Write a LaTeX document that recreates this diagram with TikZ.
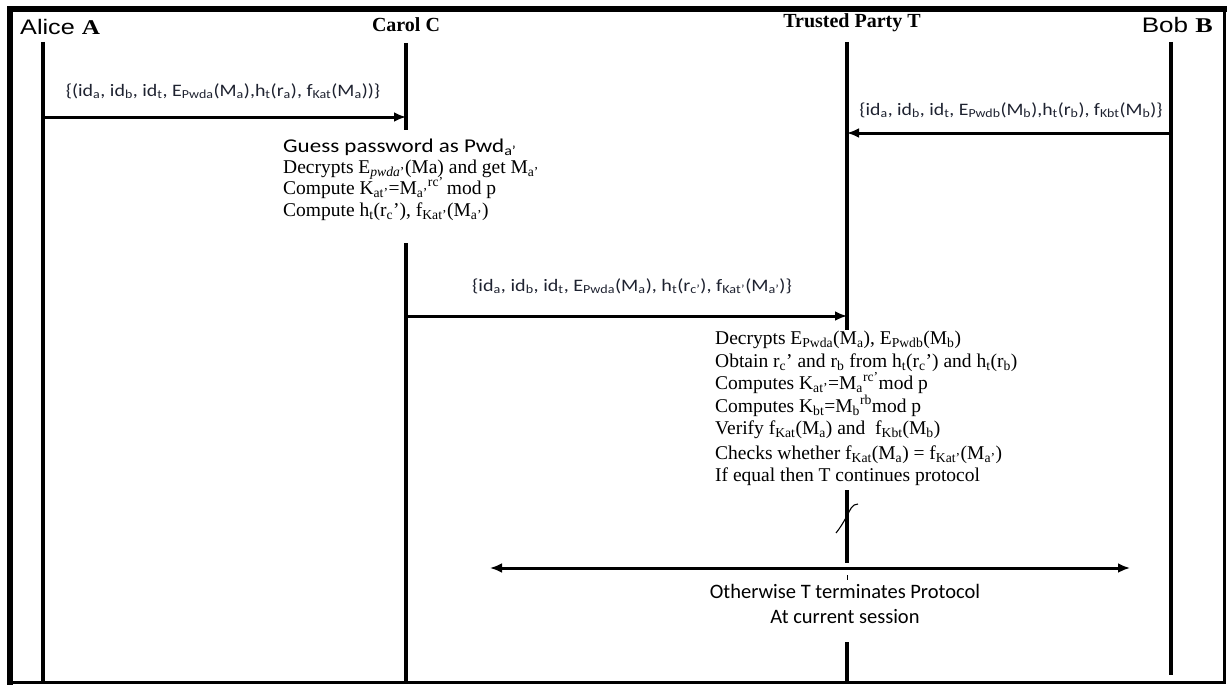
\documentclass[tikz,border=0pt]{standalone}
\usepackage{fontspec}
\setmainfont{Liberation Serif}
\newfontfamily\calfont{Carlito}
\newfontfamily\arialfont{Liberation Sans}
\usetikzlibrary{arrows.meta}
\definecolor{ink}{HTML}{1E2230}

\tikzset{
  lifeline/.style={line width=3.6pt},
  msg/.style={line width=3pt,-{Latex[length=12pt,width=10pt]}},
  twoway/.style={line width=3pt,{Latex[length=12pt,width=10pt]}-{Latex[length=12pt,width=10pt]}},
  msglabel/.style={font=\calfont\fontsize{17.5}{20}\selectfont,text=ink,inner sep=0pt,anchor=base},
  party/.style={font=\bfseries\fontsize{20}{22}\selectfont,inner sep=0pt,anchor=base},
  serifline/.style={font=\fontsize{19.5}{22}\selectfont,inner sep=0pt,anchor=base west},
  sansline/.style={font=\calfont\fontsize{19.5}{22}\selectfont,inner sep=0pt,anchor=base west},
  note/.style={font=\calfont\fontsize{20.5}{23}\selectfont,inner sep=0pt,anchor=base},
}
\newcommand{\lo}[1]{\textsubscript{#1}}
\newcommand{\hi}[1]{\textsuperscript{#1}}
\newcommand{\wide}[2]{\scalebox{#1}[1]{#2}}

\begin{document}
\begin{tikzpicture}[x=1pt,y=-1pt]
\useasboundingbox (0,0) rectangle (1227,685);

% outer frame: heavy on the top and left edges
\draw[line width=2.2pt] (10,9) rectangle (1224.5,682.5);
\draw[line width=6pt] (10,685) -- (10,9) -- (1227,9);

% participants
\node[inner sep=0pt,anchor=base west] (alice) at (20,35)
  {\wide{1.2}{\arialfont\fontsize{21}{24}\selectfont Alice \rmfamily\bfseries A}};
\node[party] (carol) at (406,32) {Carol C};
\node[party] (trusted) at (852,28) {Trusted Party T};
\node[inner sep=0pt,anchor=base east] (bob) at (1213,33)
  {\wide{1.24}{\arialfont\fontsize{21}{24}\selectfont Bob \rmfamily\bfseries B}};

% lifeline ends
\coordinate (Atop) at (43,42);   \coordinate (Abot) at (43,683);
\coordinate (Ctop) at (406,43);  \coordinate (Cgap1) at (406,130);
\coordinate (Cgap2) at (406,243); \coordinate (Cbot) at (406,683);
\coordinate (Ttop) at (847,42);  \coordinate (Tgap1) at (847,330);
\coordinate (Tgap2) at (847,490); \coordinate (Tgap3) at (847,563);
\coordinate (Tgap4) at (847,642); \coordinate (Tbot) at (847,683);
\coordinate (Btop) at (1171,42); \coordinate (Bbot) at (1171,675);

\draw[lifeline] (Atop) -- (Abot);
\draw[lifeline] (Ctop) -- (Cgap1);
\draw[lifeline] (Cgap2) -- (Cbot);
\draw[lifeline] (Ttop) -- (Tgap1);
\draw[lifeline] (Tgap2) -- (Tgap3);
\draw[lifeline] (Tgap4) -- (Tbot);
\draw[lifeline] (Btop) -- (Bbot);

% message 1: Alice -> Carol
\coordinate (m1s) at (43,117); \coordinate (m1e) at (406,117);
\draw[msg] (m1s) -- (m1e);
\node[msglabel] (m1) at (223,96)
  {\wide{1.14}{\{(id\lo{a}, id\lo{b}, id\lo{t}, E\lo{Pwda}(M\lo{a}),h\lo{t}(r\lo{a}), f\lo{Kat}(M\lo{a}))\}}};

% message 2: Bob -> Trusted party
\coordinate (m2s) at (1171,133); \coordinate (m2e) at (847,133);
\draw[msg] (m2s) -- (m2e);
\node[msglabel] (m2) at (1011,115)
  {\wide{1.13}{\{id\lo{a}, id\lo{b}, id\lo{t}, E\lo{Pwdb}(M\lo{b}),h\lo{t}(r\lo{b}), f\lo{Kbt}(M\lo{b})\}}};

% Carol's offline guessing
\node[sansline] (c1) at (283,152) {\wide{1.18}{Guess password as Pwd\lo{a’}}};
\node[serifline] (c2) at (283,173) {Decrypts E\lo{\textit{pwda}’}(Ma) and get M\lo{a’}};
\node[serifline] (c3) at (283,194) {Compute K\lo{at’}=M\lo{a’}\hi{rc’}\,mod p};
\node[serifline] (c4) at (283,216) {Compute h\lo{t}(r\lo{c}’), f\lo{Kat’}(M\lo{a’})};

% message 3: Carol -> Trusted party
\coordinate (m3s) at (406,316); \coordinate (m3e) at (847,316);
\draw[msg] (m3s) -- (m3e);
\node[msglabel] (m3) at (632,291)
  {\wide{1.15}{\{id\lo{a}, id\lo{b}, id\lo{t}, E\lo{Pwda}(M\lo{a}), h\lo{t}(r\lo{c’}), f\lo{Kat’}(M\lo{a’})\}}};

% trusted party's checks
\node[serifline] (t1) at (715,344) {Decrypts E\lo{Pwda}(M\lo{a}), E\lo{Pwdb}(M\lo{b})};
\node[serifline] (t2) at (715,367) {Obtain r\lo{c}’ and r\lo{b} from h\lo{t}(r\lo{c}’) and h\lo{t}(r\lo{b})};
\node[serifline] (t3) at (715,389) {Computes K\lo{at’}=M\lo{a}\hi{rc’}mod p};
\node[serifline] (t4) at (715,412) {Computes K\lo{bt}=M\lo{b}\hi{rb}mod p};
\node[serifline] (t5) at (715,434) {Verify f\lo{Kat}(M\lo{a}) and\ \ f\lo{Kbt}(M\lo{b})};
\node[serifline] (t6) at (715,459) {Checks whether f\lo{Kat}(M\lo{a}) = f\lo{Kat’}(M\lo{a’})};
\node[serifline] (t7) at (715,481) {If equal then T continues protocol};

% break mark on the trusted party's line
\draw[line width=1.1pt] (836,533) .. controls (840,528) and (843,523) .. (847,516)
  .. controls (850,510) and (852,504) .. (858,504);

% termination branch
\coordinate (oL) at (490,568); \coordinate (oR) at (1130,568);
\draw[twoway] (oL) -- (oR);
\draw[line width=1pt] (847,575) -- (847,580);
\node[note] (o1) at (845,598) {Otherwise T terminates Protocol};
\node[note] (o2) at (845,623) {At current session};

\end{tikzpicture}
\end{document}
